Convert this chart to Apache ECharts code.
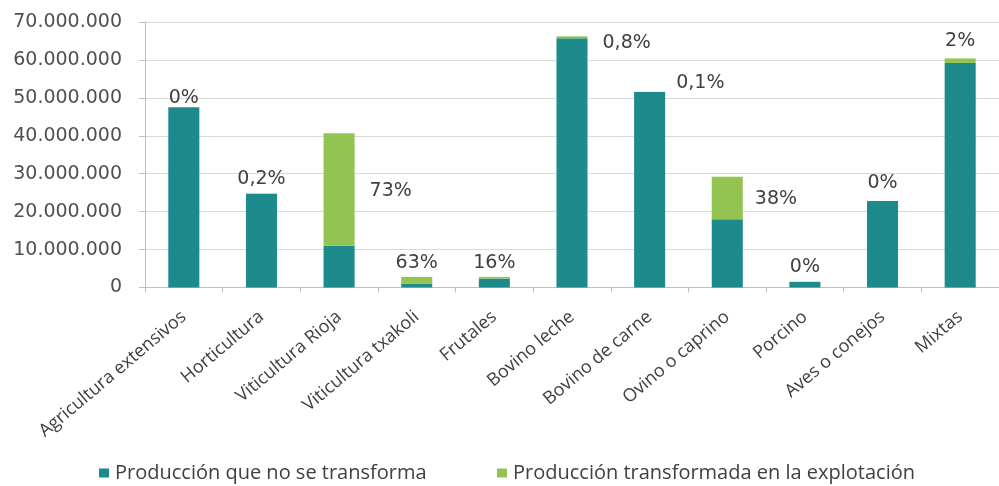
<!DOCTYPE html>
<html>
<head>
<meta charset="utf-8">
<script src="https://cdn.jsdelivr.net/npm/echarts@6/dist/echarts.min.js"></script>
<style>
  html, body { margin: 0; padding: 0; background: #ffffff; }
  #chart { width: 999px; height: 486px; }
</style>
</head>
<body>
<div id="chart"></div>
<script>
// Farm categories on the x axis
const categories = [
  'Agricultura extensivos', 'Horticultura', 'Viticultura Rioja', 'Viticultura txakoli',
  'Frutales', 'Bovino leche', 'Bovino de carne', 'Ovino o caprino',
  'Porcino', 'Aves o conejos', 'Mixtas'
];

// Production not transformed on the farm
const noTransformada = [47500000, 24750000, 11000000, 1050000, 2350000, 65700000, 51550000, 18000000, 1500000, 22800000, 59200000];

// Production transformed on the farm
const transformada = [0, 50000, 29700000, 1750000, 450000, 530000, 50000, 11200000, 0, 0, 1200000];

// Share of transformed production, shown next to each bar
const porcentajes = ['0%', '0,2%', '73%', '63%', '16%', '0,8%', '0,1%', '38%', '0%', '0%', '2%'];

// Y axis ticks
const yTicks = [0, 10000000, 20000000, 30000000, 40000000, 50000000, 60000000, 70000000];

const seriesNames = ['Producción que no se transforma', 'Producción transformada en la explotación'];

// Placement of each percentage label
const labelPlacement = [
  { position: 'top', distance: 0 },
  { position: 'top', distance: 5 },
  { position: 'right', distance: 15, offset: [0, 2] },
  { position: 'top', distance: 4 },
  { position: 'top', distance: 4 },
  { position: 'right', distance: 15, offset: [0, 6] },
  { position: 'right', distance: 11, offset: [0, -9] },
  { position: 'right', distance: 12, offset: [0, 1] },
  { position: 'top', distance: 5 },
  { position: 'top', distance: 8 },
  { position: 'top', distance: 8 }
];

const TEAL = '#1d8a8c';
const GREEN = '#93c452';

function formatMiles(v) {
  return String(v).replace(/\B(?=(\d{3})+(?!\d))/g, '.');
}

// One legend block per series so each entry can sit at its own place
function legendBlock(name, left) {
  return {
    left: left,
    top: 458,
    itemWidth: 10,
    itemHeight: 9,
    icon: 'rect',
    textStyle: { fontFamily: 'Open Sans', fontSize: 20, color: '#404040', padding: [0, 0, 0, 1] },
    data: [name]
  };
}

const chart = echarts.init(document.getElementById('chart'), null, { renderer: 'canvas' });

chart.setOption({
  animation: false,
  backgroundColor: '#ffffff',
  grid: { left: 145, right: -11, top: 22, bottom: 198.5, containLabel: false },
  legend: [legendBlock(seriesNames[0], 94), legendBlock(seriesNames[1], 492)],
  xAxis: {
    type: 'category',
    data: categories,
    axisLine: { lineStyle: { color: '#bfbfbf', width: 1 } },
    axisTick: { show: true, alignWithLabel: false, length: 5, lineStyle: { color: '#bfbfbf' } },
    axisLabel: {
      rotate: 40,
      margin: 27,
      interval: 0,
      fontFamily: 'Open Sans',
      fontSize: 18,
      color: '#404040'
    }
  },
  yAxis: {
    type: 'value',
    min: yTicks[0],
    max: yTicks[yTicks.length - 1],
    interval: yTicks[1] - yTicks[0],
    axisLine: { show: true, lineStyle: { color: '#bfbfbf', width: 1 } },
    axisTick: { show: true, length: 6, lineStyle: { color: '#bfbfbf' } },
    splitLine: { lineStyle: { color: '#d9d9d9', width: 1 } },
    axisLabel: {
      margin: 23,
      fontFamily: 'DejaVu Sans',
      fontSize: 19,
      color: '#505050',
      formatter: formatMiles
    }
  },
  series: [
    {
      name: seriesNames[0],
      type: 'bar',
      stack: 'total',
      barWidth: '40%',
      itemStyle: { color: TEAL },
      data: noTransformada
    },
    {
      name: seriesNames[1],
      type: 'bar',
      stack: 'total',
      barWidth: '40%',
      itemStyle: { color: GREEN },
      data: transformada.map((v, i) => ({
        value: v,
        label: Object.assign({
          show: true,
          formatter: porcentajes[i],
          fontFamily: 'DejaVu Sans',
          fontSize: 19,
          color: '#404040'
        }, labelPlacement[i])
      }))
    }
  ]
});
</script>
</body>
</html>
